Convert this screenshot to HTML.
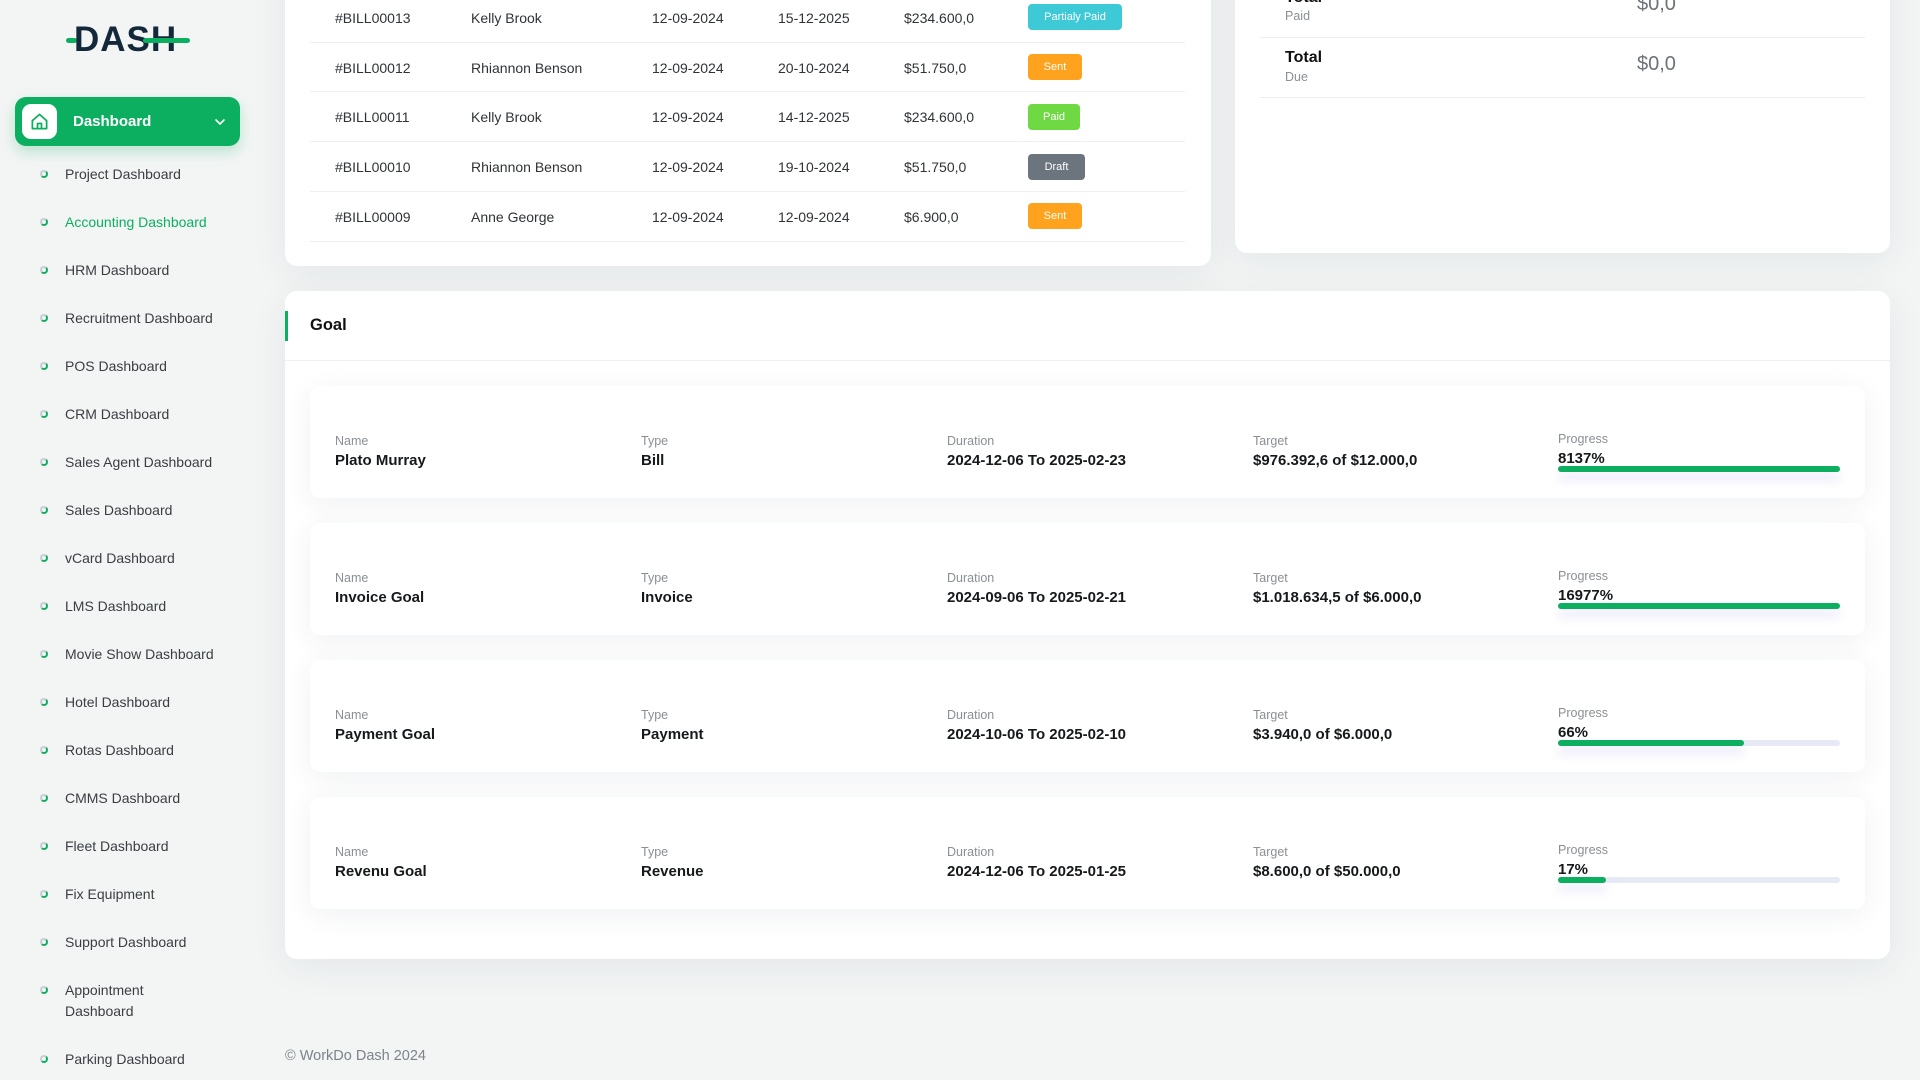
<!DOCTYPE html>
<html>
<head>
<meta charset="utf-8">
<style>
*{margin:0;padding:0;box-sizing:border-box;}
html,body{width:1920px;height:1080px;overflow:hidden;}
body{background:#f3f5f5;font-family:"Liberation Sans",Arial,sans-serif;color:#2b2f33;position:relative;}
.abs{position:absolute;white-space:nowrap;}
.card{position:absolute;background:#fff;border-radius:12px;box-shadow:0 8px 36px rgba(30,40,60,0.07);}
.mi{position:absolute;left:65px;font-size:14px;color:#3a3d42;height:20px;line-height:20px;}
.bul{position:absolute;left:40px;width:8px;height:8px;border-radius:50%;border:2px solid #c9cdd2;border-right-color:#0caf60;border-bottom-color:#0caf60;}
.td{position:absolute;font-size:14px;color:#2f3337;height:20px;line-height:20px;}
.rl{position:absolute;left:310px;width:875px;height:1px;background:#eef0f2;}
.badge{position:absolute;left:1028px;height:26px;line-height:26px;border-radius:4px;color:#fff;font-size:11px;text-align:center;}
.item{position:absolute;left:310px;width:1555px;height:112px;background:#fff;border-radius:10px;box-shadow:0 6px 28px rgba(40,50,80,0.07);}
.lab{position:absolute;font-size:12.5px;color:#8a8f96;height:16px;line-height:16px;white-space:nowrap;}
.val{position:absolute;font-size:15px;font-weight:bold;color:#16191c;height:20px;line-height:20px;white-space:nowrap;}
.track{position:absolute;left:1248px;width:282px;height:6px;border-radius:3px;background:#e7eaf6;}
.fill{position:absolute;left:0;top:0;height:6px;border-radius:3px;background:#0caf60;box-shadow:0 8px 10px rgba(90,90,200,0.15);}
</style>
</head>
<body>

<!-- Logo -->
<div class="abs" style="left:66px;top:38px;width:11px;height:5px;border-radius:3px;background:#0caf60;"></div>
<div class="abs" style="left:74px;top:22px;font-size:35px;font-weight:bold;color:#13283a;letter-spacing:1px;line-height:36px;">DASH</div>
<div class="abs" style="left:143px;top:38px;width:47px;height:5px;border-radius:3px;background:#0caf60;"></div>

<!-- Dashboard button -->
<div class="abs" style="left:15px;top:97px;width:225px;height:49px;border-radius:11px;background:#0caf60;box-shadow:0 6px 14px rgba(12,175,96,0.25);"></div>
<div class="abs" style="left:22px;top:104px;width:35px;height:35px;border-radius:9px;background:#fff;"></div>
<svg class="abs" style="left:30px;top:112px;" width="19" height="19" viewBox="0 0 24 24" fill="none" stroke="#0caf60" stroke-width="2.2" stroke-linejoin="round" stroke-linecap="round"><path d="M3 11 L12 3 L21 11 V21 H3 Z"/><path d="M9.5 21 V14.5 H14.5 V21"/></svg>
<div class="abs" style="left:73px;top:112px;font-size:15px;font-weight:bold;color:#fff;line-height:20px;">Dashboard</div>
<svg class="abs" style="left:214px;top:117px;" width="12" height="10" viewBox="0 0 12 10" fill="none" stroke="#fff" stroke-width="1.6" stroke-linecap="round" stroke-linejoin="round"><polyline points="2,3 6,7 10,3"/></svg>

<!-- Menu -->
<div class="bul" style="top:170px;"></div><div class="mi" style="top:164px;">Project Dashboard</div>
<div class="bul" style="top:218px;"></div><div class="mi" style="top:212px;color:#0caf60;">Accounting Dashboard</div>
<div class="bul" style="top:266px;"></div><div class="mi" style="top:260px;">HRM Dashboard</div>
<div class="bul" style="top:314px;"></div><div class="mi" style="top:308px;">Recruitment Dashboard</div>
<div class="bul" style="top:362px;"></div><div class="mi" style="top:356px;">POS Dashboard</div>
<div class="bul" style="top:410px;"></div><div class="mi" style="top:404px;">CRM Dashboard</div>
<div class="bul" style="top:458px;"></div><div class="mi" style="top:452px;">Sales Agent Dashboard</div>
<div class="bul" style="top:506px;"></div><div class="mi" style="top:500px;">Sales Dashboard</div>
<div class="bul" style="top:554px;"></div><div class="mi" style="top:548px;">vCard Dashboard</div>
<div class="bul" style="top:602px;"></div><div class="mi" style="top:596px;">LMS Dashboard</div>
<div class="bul" style="top:650px;"></div><div class="mi" style="top:644px;">Movie Show Dashboard</div>
<div class="bul" style="top:698px;"></div><div class="mi" style="top:692px;">Hotel Dashboard</div>
<div class="bul" style="top:746px;"></div><div class="mi" style="top:740px;">Rotas Dashboard</div>
<div class="bul" style="top:794px;"></div><div class="mi" style="top:788px;">CMMS Dashboard</div>
<div class="bul" style="top:842px;"></div><div class="mi" style="top:836px;">Fleet Dashboard</div>
<div class="bul" style="top:890px;"></div><div class="mi" style="top:884px;">Fix Equipment</div>
<div class="bul" style="top:938px;"></div><div class="mi" style="top:932px;">Support Dashboard</div>
<div class="bul" style="top:986px;"></div><div class="mi" style="top:980px;">Appointment</div><div class="mi" style="top:1001px;">Dashboard</div>
<div class="bul" style="top:1055px;"></div><div class="mi" style="top:1049px;">Parking Dashboard</div>

<!-- Table card -->
<div class="card" style="left:285px;top:-100px;width:926px;height:366px;"></div>
<div class="rl" style="top:42px;"></div>
<div class="rl" style="top:91px;"></div>
<div class="rl" style="top:141px;"></div>
<div class="rl" style="top:191px;"></div>
<div class="rl" style="top:241px;"></div>

<div class="td" style="left:335px;top:8px;">#BILL00013</div>
<div class="td" style="left:471px;top:8px;">Kelly Brook</div>
<div class="td" style="left:652px;top:8px;">12-09-2024</div>
<div class="td" style="left:778px;top:8px;">15-12-2025</div>
<div class="td" style="left:904px;top:8px;">$234.600,0</div>
<div class="badge" style="top:4px;width:94px;background:#3ec9d6;">Partialy Paid</div>

<div class="td" style="left:335px;top:58px;">#BILL00012</div>
<div class="td" style="left:471px;top:58px;">Rhiannon Benson</div>
<div class="td" style="left:652px;top:58px;">12-09-2024</div>
<div class="td" style="left:778px;top:58px;">20-10-2024</div>
<div class="td" style="left:904px;top:58px;">$51.750,0</div>
<div class="badge" style="top:54px;width:54px;background:#ffa21d;">Sent</div>

<div class="td" style="left:335px;top:107px;">#BILL00011</div>
<div class="td" style="left:471px;top:107px;">Kelly Brook</div>
<div class="td" style="left:652px;top:107px;">12-09-2024</div>
<div class="td" style="left:778px;top:107px;">14-12-2025</div>
<div class="td" style="left:904px;top:107px;">$234.600,0</div>
<div class="badge" style="top:104px;width:52px;background:#6fd943;">Paid</div>

<div class="td" style="left:335px;top:157px;">#BILL00010</div>
<div class="td" style="left:471px;top:157px;">Rhiannon Benson</div>
<div class="td" style="left:652px;top:157px;">12-09-2024</div>
<div class="td" style="left:778px;top:157px;">19-10-2024</div>
<div class="td" style="left:904px;top:157px;">$51.750,0</div>
<div class="badge" style="top:154px;width:57px;background:#6c757d;">Draft</div>

<div class="td" style="left:335px;top:207px;">#BILL00009</div>
<div class="td" style="left:471px;top:207px;">Anne George</div>
<div class="td" style="left:652px;top:207px;">12-09-2024</div>
<div class="td" style="left:778px;top:207px;">12-09-2024</div>
<div class="td" style="left:904px;top:207px;">$6.900,0</div>
<div class="badge" style="top:203px;width:54px;background:#ffa21d;">Sent</div>

<!-- Right summary card -->
<div class="card" style="left:1235px;top:-100px;width:655px;height:353px;"></div>
<div class="abs" style="left:1285px;top:-12px;font-size:16px;font-weight:bold;color:#111;line-height:20px;">Total</div>
<div class="abs" style="left:1285px;top:8px;font-size:12.5px;color:#8a8f96;line-height:16px;">Paid</div>
<div class="abs" style="left:1637px;top:-8px;font-size:20px;color:#6c7278;line-height:24px;">$0,0</div>
<div class="abs" style="left:1260px;top:37px;width:605px;height:1px;background:#eceef0;"></div>
<div class="abs" style="left:1285px;top:48px;font-size:16px;font-weight:bold;color:#111;line-height:20px;">Total</div>
<div class="abs" style="left:1285px;top:69px;font-size:12.5px;color:#8a8f96;line-height:16px;">Due</div>
<div class="abs" style="left:1637px;top:52px;font-size:20px;color:#6c7278;line-height:24px;">$0,0</div>
<div class="abs" style="left:1260px;top:97px;width:605px;height:1px;background:#eceef0;"></div>

<!-- Goal card -->
<div class="card" style="left:285px;top:291px;width:1605px;height:668px;"></div>
<div class="abs" style="left:285px;top:311px;width:3px;height:30px;background:#0caf60;"></div>
<div class="abs" style="left:310px;top:314px;font-size:16.5px;font-weight:bold;color:#111;line-height:22px;">Goal</div>
<div class="abs" style="left:285px;top:360px;width:1605px;height:1px;background:#eef0f2;"></div>

<!-- Item 1 -->
<div class="item" style="top:386px;">
  <div class="lab" style="left:25px;top:47px;">Name</div>
  <div class="val" style="left:25px;top:65px;">Plato Murray</div>
  <div class="lab" style="left:331px;top:47px;">Type</div>
  <div class="val" style="left:331px;top:65px;">Bill</div>
  <div class="lab" style="left:637px;top:47px;">Duration</div>
  <div class="val" style="left:637px;top:65px;">2024-12-06 To 2025-02-23</div>
  <div class="lab" style="left:943px;top:47px;">Target</div>
  <div class="val" style="left:943px;top:65px;">$976.392,6 of $12.000,0</div>
  <div class="lab" style="left:1248px;top:45px;">Progress</div>
  <div class="val" style="left:1248px;top:63px;">8137%</div>
  <div class="track" style="top:80px;"><div class="fill" style="width:282px;"></div></div>
</div>

<!-- Item 2 -->
<div class="item" style="top:523px;">
  <div class="lab" style="left:25px;top:47px;">Name</div>
  <div class="val" style="left:25px;top:65px;">Invoice Goal</div>
  <div class="lab" style="left:331px;top:47px;">Type</div>
  <div class="val" style="left:331px;top:65px;">Invoice</div>
  <div class="lab" style="left:637px;top:47px;">Duration</div>
  <div class="val" style="left:637px;top:65px;">2024-09-06 To 2025-02-21</div>
  <div class="lab" style="left:943px;top:47px;">Target</div>
  <div class="val" style="left:943px;top:65px;">$1.018.634,5 of $6.000,0</div>
  <div class="lab" style="left:1248px;top:45px;">Progress</div>
  <div class="val" style="left:1248px;top:63px;">16977%</div>
  <div class="track" style="top:80px;"><div class="fill" style="width:282px;"></div></div>
</div>

<!-- Item 3 -->
<div class="item" style="top:660px;">
  <div class="lab" style="left:25px;top:47px;">Name</div>
  <div class="val" style="left:25px;top:65px;">Payment Goal</div>
  <div class="lab" style="left:331px;top:47px;">Type</div>
  <div class="val" style="left:331px;top:65px;">Payment</div>
  <div class="lab" style="left:637px;top:47px;">Duration</div>
  <div class="val" style="left:637px;top:65px;">2024-10-06 To 2025-02-10</div>
  <div class="lab" style="left:943px;top:47px;">Target</div>
  <div class="val" style="left:943px;top:65px;">$3.940,0 of $6.000,0</div>
  <div class="lab" style="left:1248px;top:45px;">Progress</div>
  <div class="val" style="left:1248px;top:63px;">66%</div>
  <div class="track" style="top:80px;"><div class="fill" style="width:186px;"></div></div>
</div>

<!-- Item 4 -->
<div class="item" style="top:797px;">
  <div class="lab" style="left:25px;top:47px;">Name</div>
  <div class="val" style="left:25px;top:65px;">Revenu Goal</div>
  <div class="lab" style="left:331px;top:47px;">Type</div>
  <div class="val" style="left:331px;top:65px;">Revenue</div>
  <div class="lab" style="left:637px;top:47px;">Duration</div>
  <div class="val" style="left:637px;top:65px;">2024-12-06 To 2025-01-25</div>
  <div class="lab" style="left:943px;top:47px;">Target</div>
  <div class="val" style="left:943px;top:65px;">$8.600,0 of $50.000,0</div>
  <div class="lab" style="left:1248px;top:45px;">Progress</div>
  <div class="val" style="left:1248px;top:63px;">17%</div>
  <div class="track" style="top:80px;"><div class="fill" style="width:48px;"></div></div>
</div>

<!-- Footer -->
<div class="abs" style="left:285px;top:1046px;font-size:14.5px;color:#7d838a;line-height:20px;">© WorkDo Dash 2024</div>

</body>
</html>
